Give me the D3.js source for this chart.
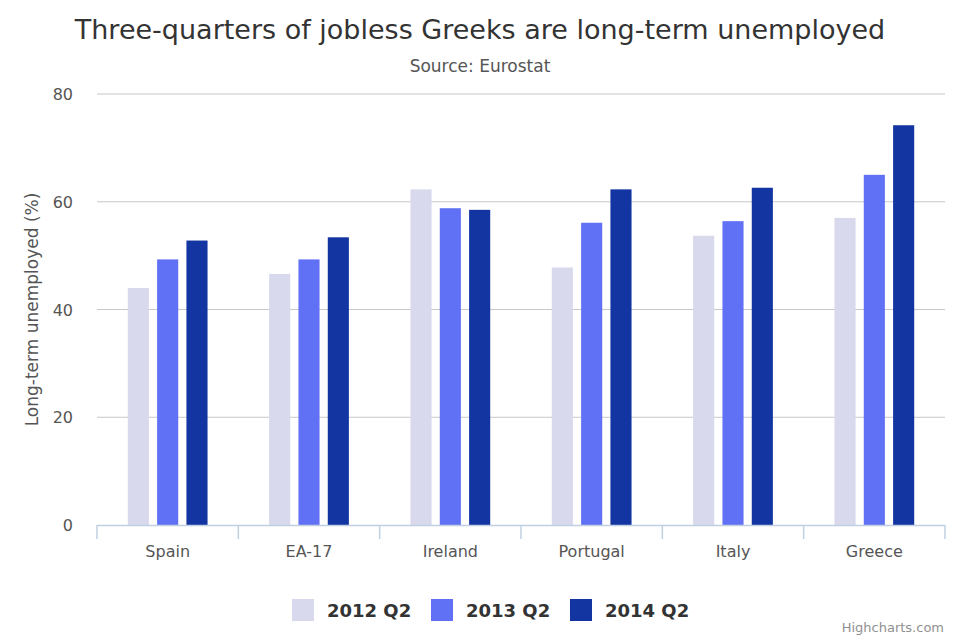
<!DOCTYPE html>
<html><head><meta charset="utf-8">
<script src="https://cdn.jsdelivr.net/npm/d3@7"></script>
<style>body{margin:0;background:#fff;font-family:"DejaVu Sans",sans-serif}</style>
</head><body><svg id="c" width="960" height="640"></svg>
<script>
// data
var countries = ['Spain', 'EA-17', 'Ireland', 'Portugal', 'Italy', 'Greece'];
var seriesNames = ['2012 Q2', '2013 Q2', '2014 Q2'];
var s2012 = [44.0, 46.6, 62.3, 47.8, 53.7, 57.0];
var s2013 = [49.3, 49.3, 58.8, 56.1, 56.4, 65.0];
var s2014 = [52.8, 53.4, 58.5, 62.3, 62.6, 74.2];
var yTicks = [0, 20, 40, 60, 80];
var colors = ['#d9d9ee', '#6171f5', '#1235a1'];

(function(){
var svg = d3.select('#c');
var pLeft = 97, pRight = 945, pTop = 94, pBottom = 525;

var x = d3.scaleBand().domain(countries).range([pLeft, pRight]);
var xs = d3.scaleBand().domain(seriesNames).range([0, x.bandwidth()]).paddingInner(0.28).paddingOuter(1.05);
var y = d3.scaleLinear().domain([0, 80]).range([pBottom, pTop]);

// gridlines
svg.selectAll('.grid').data(yTicks.slice(1)).enter().append('line')
    .attr('x1', pLeft).attr('x2', pRight)
    .attr('y1', function(d){ return y(d); }).attr('y2', function(d){ return y(d); })
    .attr('stroke', '#c8c8c8').attr('stroke-width', 1);

svg.selectAll('.ylab').data(yTicks).enter().append('text')
    .attr('x', 73).attr('y', function(d){ return y(d) + 6; })
    .attr('text-anchor', 'end').attr('font-size', 16).attr('fill', '#555')
    .text(function(d){ return d; });

svg.append('text').attr('transform', 'translate(38,' + ((pTop + pBottom) / 2) + ') rotate(-90)')
    .attr('text-anchor', 'middle').attr('font-size', 17).attr('fill', '#555')
    .text('Long-term unemployed (%)');

// bars
var all = [s2012, s2013, s2014];
all.forEach(function(vals, si){
    svg.selectAll('.b' + si).data(vals).enter().append('rect')
        .attr('x', function(d, i){ return x(countries[i]) + xs(seriesNames[si]); })
        .attr('width', xs.bandwidth())
        .attr('y', function(d){ return y(d); })
        .attr('height', function(d){ return pBottom - y(d); })
        .attr('fill', colors[si]);
});

// x axis
svg.append('line').attr('x1', pLeft).attr('x2', pRight).attr('y1', pBottom + 0.5).attr('y2', pBottom + 0.5)
    .attr('stroke', '#c0d0e0').attr('stroke-width', 1.5);
var edges = countries.map(function(c){ return x(c); }).concat([pRight]);
svg.selectAll('.tick').data(edges).enter().append('line')
    .attr('x1', function(d){ return d; }).attr('x2', function(d){ return d; })
    .attr('y1', pBottom).attr('y2', pBottom + 14)
    .attr('stroke', '#c0d0e0').attr('stroke-width', 1.5);
svg.selectAll('.xlab').data(countries).enter().append('text')
    .attr('x', function(d){ return x(d) + x.bandwidth() / 2; }).attr('y', 557)
    .attr('text-anchor', 'middle').attr('font-size', 16).attr('fill', '#555')
    .text(function(d){ return d; });

// titles
svg.append('text').attr('x', 480).attr('y', 39).attr('text-anchor', 'middle')
    .attr('font-size', 27).attr('fill', '#333').text('Three-quarters of jobless Greeks are long-term unemployed');
svg.append('text').attr('x', 480).attr('y', 72).attr('text-anchor', 'middle')
    .attr('font-size', 17).attr('fill', '#555').text('Source: Eurostat');

// legend
var lx = [292, 431, 570];
seriesNames.forEach(function(n, i){
    svg.append('rect').attr('x', lx[i]).attr('y', 599).attr('width', 22).attr('height', 22).attr('fill', colors[i]);
    svg.append('text').attr('x', lx[i] + 35).attr('y', 617).attr('font-size', 18).attr('font-weight', 'bold')
        .attr('fill', '#333').text(n);
});

svg.append('text').attr('x', 944).attr('y', 632).attr('text-anchor', 'end')
    .attr('font-size', 13).attr('fill', '#909090').text('Highcharts.com');
})();
</script></body></html>
